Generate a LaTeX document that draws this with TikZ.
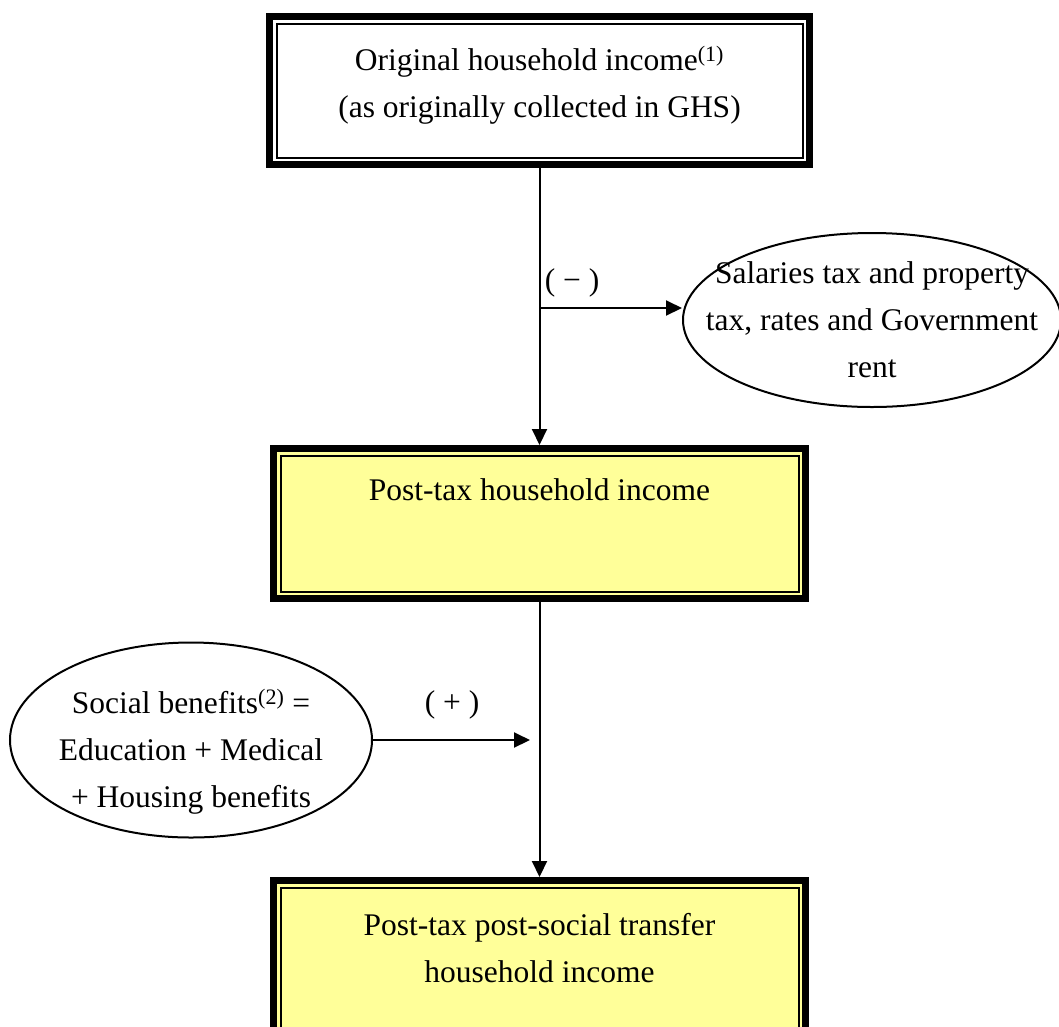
\documentclass[tikz,border=0pt]{standalone}
\usepackage{fontspec}
\setmainfont{Liberation Serif}
\usetikzlibrary{positioning,shapes.geometric,arrows.meta}
\definecolor{boxyellow}{RGB}{255,255,153}

\begin{document}
\begin{tikzpicture}[x=1pt, y=-1pt,
font=\fontsize{31.5}{47}\selectfont,
box/.style={rectangle, draw=black, line width=7pt, minimum width=540pt, minimum height=148pt, align=center},
oval/.style={ellipse, draw=black, line width=2pt, fill=white, inner sep=0pt},
arr/.style={line width=2pt, -{Triangle[length=16pt,width=15pt]}}
]
\useasboundingbox (0,0) rectangle (1059,1026);
%Nodes
\node[box, fill=white, text depth=17pt]
                            (b1)  at (539.5,90.5)         {Original household income\textsuperscript{(1)}\\(as originally collected in GHS)};
\node[box, fill=boxyellow, minimum width=532pt, minimum height=150pt, text depth=67pt]
                            (b2)  [below=277pt of b1]     {Post-tax household income};
\node[box, fill=boxyellow, minimum width=532pt, minimum height=160pt, text depth=25pt]
                            (b3)  [below=275pt of b2]     {Post-tax post-social transfer\\household income};
\node[oval, minimum width=378pt, minimum height=174pt]  (e1)  at (872,320)  {};
\node[align=center]         (e1text) at (e1)              {Salaries tax and property\\tax, rates and Government\\rent};
\node[oval, minimum width=362pt, minimum height=195pt]  (e2)  at (191,740)  {};
\node[align=center]         (e2text) [yshift=-12pt] at (e2) {Social benefits\textsuperscript{(2)} =\\Education + Medical\\+ Housing benefits};
\node                       (minus) at (572,283)          {( − )};
\node                       (plus)  at (452,705)          {( + )};
\coordinate (t1) at (539.5,308);
\coordinate (a2) at (530,740);
%Inner frames
\foreach \b in {b1,b2,b3}
  \draw[line width=2pt] ([shift={(10.5,10.5)}]\b.north west) rectangle ([shift={(-10.5,-10.5)}]\b.south east);
%Lines
\draw[arr] (b1) -- (b2);
\draw[arr] (t1) -- (e1.west |- t1);
\draw[arr] (b2) -- (b3);
\draw[arr] (e2) -- (a2);
\end{tikzpicture}
\end{document}
